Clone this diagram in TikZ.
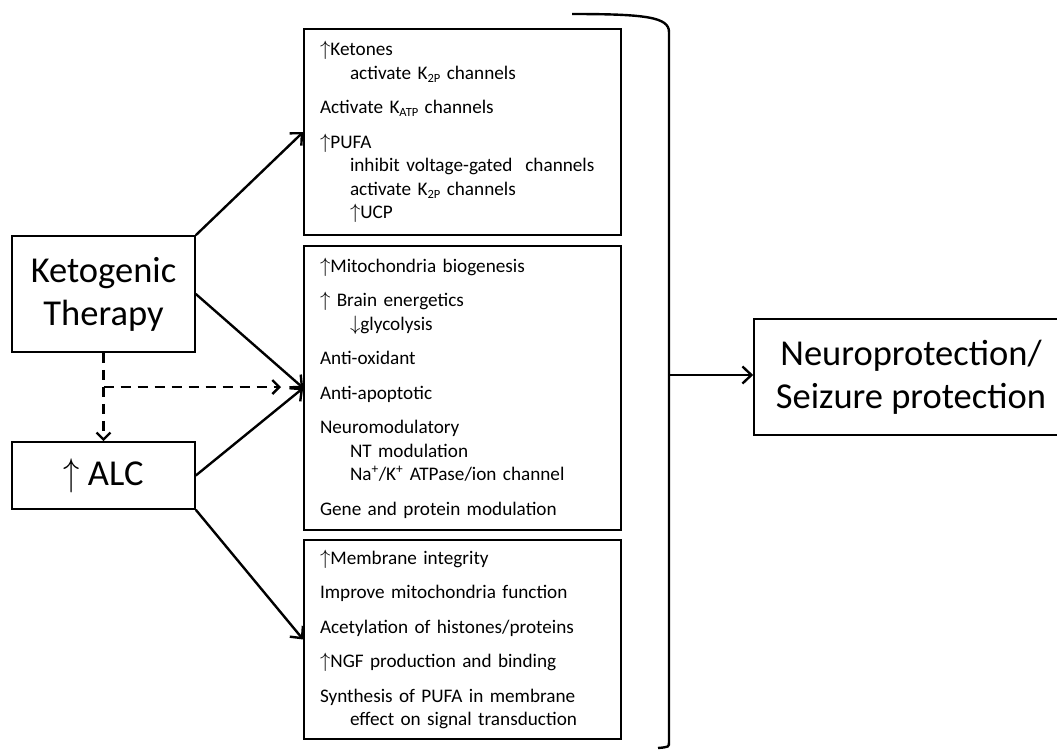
\documentclass[tikz,border=0pt]{standalone}
\usepackage{fontspec}
\setmainfont{Carlito}
\usepackage{graphicx}
\usepackage{tikz}
\usetikzlibrary{arrows.meta,positioning,calc}

\newcommand{\lowtext}[1]{\raisebox{-0.35ex}{\fontsize{12.5}{12.5}\selectfont #1}}
\newcommand{\incr}{$\uparrow$}
\newcommand{\decr}{$\downarrow$}
\newcommand{\ind}{\hspace*{30pt}}

\begin{document}
\begin{tikzpicture}[
    x=1pt, y=-1pt,
    bigbox/.style={rectangle, draw, line width=1.6pt, align=center, inner sep=0pt, font=\fontsize{36.5}{43}\selectfont},
    listbox/.style={rectangle, draw, line width=1.6pt, align=left, text width=285pt, inner xsep=16pt, inner ysep=0pt, minimum width=317pt, font=\fontsize{19.2}{23.5}\selectfont},
    arrow/.style={-{Straight Barb[length=9pt, width=17pt]}, line width=2.4pt},
    dasharrow/.style={-{Straight Barb[length=7pt, width=14pt]}, line width=2.4pt, dash pattern=on 10pt off 7pt}
]
    \useasboundingbox (0,0) rectangle (1057,750);

    % left side
    \node [bigbox, minimum width=183pt, minimum height=116pt] (keto) at (103.5,294) {Ketogenic\\Therapy};
    \node [bigbox, minimum width=183pt, minimum height=67pt] (alc) at (103.5,475.5) {\scalebox{1.3}[1.55]{$\uparrow$}\ ALC};

    % mechanism lists
    \node [listbox, minimum height=206pt] (top) at (462.5,132) {%
        \incr Ketones\\
        \ind activate\ K\lowtext{2P} channels\\[11pt]
        Activate K\lowtext{ATP} channels\\[11pt]
        \incr PUFA\\
        \ind inhibit voltage-gated\ \ channels\\
        \ind activate\ K\lowtext{2P} channels\\
        \ind\incr UCP};
    \node [listbox, minimum height=284pt] (mid) at (462.5,388) {%
        \incr Mitochondria biogenesis\\[11pt]
        \incr{} Brain energetics\\
        \ind\decr glycolysis\\[11pt]
        Anti-oxidant\\[11pt]
        Anti-apoptotic\\[11pt]
        Neuromodulatory\\
        \ind NT modulation\\
        \ind Na\textsuperscript{+}/K\textsuperscript{+} ATPase/ion channel\\[11pt]
        Gene and protein modulation};
    \node [listbox, minimum height=199pt] (bot) at (462.5,639.5) {%
        \incr Membrane integrity\\[11pt]
        Improve mitochondria function\\[11pt]
        Acetylation of histones/proteins\\[11pt]
        \incr NGF production and binding\\[11pt]
        Synthesis of PUFA in membrane\\
        \ind effect on signal transduction};

    % outcome
    \node [bigbox, minimum width=314pt, minimum height=116pt] (neuro) at (911,377) {Neuroprotection/\\Seizure protection};

    \draw [arrow] (keto.north east) -- (top.west);
    \draw [arrow] (keto.east) -- (mid.west);
    \draw [arrow] (alc.east) -- (mid.west);
    \draw [arrow] (alc.south east) -- (bot.west);

    \coordinate (dsplit) at (103.5,387);
    \coordinate (dend) at (281,387);
    \draw [dasharrow] (keto.south) -- (alc.north);
    \draw [dasharrow] (dsplit) -- (dend);

    % bracket
    \coordinate (brtop) at (572,14);
    \coordinate (brbot) at (658,748);
    \coordinate (brmid) at (669,375);
    \draw [line width=2.4pt] (brtop) .. controls (645,14) and (669,17) .. (669,32)
        -- (669,742) .. controls (669,747) .. (brbot);
    \draw [arrow] (brmid) -- (brmid -| neuro.west);
\end{tikzpicture}
\end{document}
